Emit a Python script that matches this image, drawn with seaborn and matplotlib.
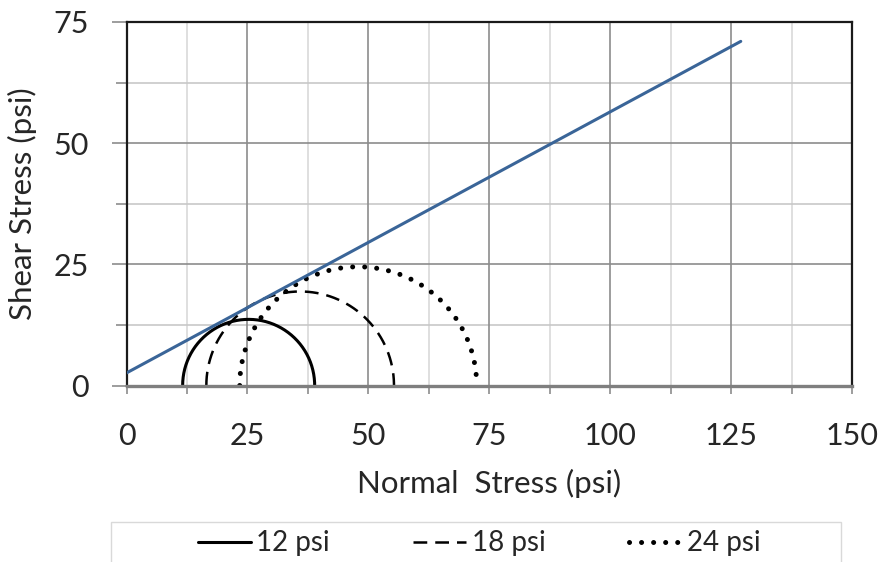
import numpy as np
import pandas as pd
import matplotlib
matplotlib.use("Agg")
import matplotlib.pyplot as plt
from matplotlib.patches import Rectangle
import seaborn as sns

# Mohr circles (principal stresses, psi)
labels = ["12 psi", "18 psi", "24 psi"]
sigma3 = [11.6, 16.5, 23.4]
sigma1 = [38.9, 55.3, 72.4]
# failure envelope endpoints
env_x = [0.0, 127.0]
env_y = [2.6, 71.0]

x_ticks = [0, 25, 50, 75, 100, 125, 150]
y_ticks = [0, 25, 50, 75]

sns.set_style("white")
plt.rcParams["font.family"] = ["Lato", "DejaVu Sans"]

fig = plt.figure(figsize=(8.83, 5.62), dpi=100)
ax = fig.add_axes([0.1433, 0.314, 0.8216, 0.6469])

# grid
for v in np.arange(12.5, 150, 25):
    ax.axvline(v, color="#d9d9d9", lw=1.2, zorder=0)
for v in np.arange(12.5, 75, 25):
    ax.axhline(v, color="#c8c8c8", lw=1.2, zorder=0)
for v in x_ticks[1:-1]:
    ax.axvline(v, color="#8c8c8c", lw=1.2, zorder=0)
for v in y_ticks[1:-1]:
    ax.axhline(v, color="#8c8c8c", lw=1.2, zorder=0)

styles = [
    dict(ls="-", lw=2.2),
    dict(ls=(0, (5.5, 3.2)), lw=1.8),
    dict(ls=(0, (0.01, 2.4)), lw=3.6, dash_capstyle="round"),
]
t = np.linspace(np.pi, 0, 200)
for lab, s3, s1, st in zip(labels, sigma3, sigma1, styles):
    c = (s1 + s3) / 2
    r = (s1 - s3) / 2
    df = pd.DataFrame({"x": c + r * np.cos(t), "y": r * np.sin(t)})
    sns.lineplot(data=df, x="x", y="y", sort=False, ax=ax, color="black",
                 label=lab, lw=st["lw"], zorder=3)
    l = ax.get_lines()[-1]
    l.set_linestyle(st["ls"])
    if "dash_capstyle" in st:
        l.set_dash_capstyle("round")

env = pd.DataFrame({"x": env_x, "y": env_y})
sns.lineplot(data=env, x="x", y="y", ax=ax, color="#3A6598", lw=2.2, zorder=4)

ax.set_xlim(0, 150)
ax.set_ylim(0, 75)
ax.set_xticks(x_ticks)
ax.set_yticks(y_ticks)
ax.set_xticks(np.arange(12.5, 150, 25), minor=True)
ax.set_yticks(np.arange(12.5, 75, 25), minor=True)
ax.tick_params(axis="x", which="both", direction="out", length=6, width=1.2,
               color="#8c8c8c", labelsize=22, pad=20, bottom=True)
ax.tick_params(axis="y", which="major", direction="out", length=11, width=1.2,
               color="#8c8c8c", labelsize=22, pad=16, left=True)
ax.tick_params(axis="y", which="minor", direction="out", length=8, width=1.2,
               color="#8c8c8c", left=True)
ax.set_xlabel("Normal  Stress (psi)", fontsize=22.5, labelpad=14)
ax.set_ylabel("Shear Stress (psi)", fontsize=22.5, labelpad=12)

for s in ["top", "right", "left"]:
    ax.spines[s].set_color("#1a1a1a")
    ax.spines[s].set_linewidth(1.6)
ax.spines["bottom"].set_color("#7f7f7f")
ax.spines["bottom"].set_linewidth(2.4)
ax.spines["bottom"].set_zorder(5)

ax.get_legend().remove()
handles, labs = ax.get_legend_handles_labels()
handles, labs = handles[:3], labs[:3]

fig.patches.append(Rectangle((0.1257, -0.01), 0.8267, 0.081, transform=fig.transFigure,
                             fill=False, edgecolor="#d9d9d9", lw=1.0))
fig.legend(handles, labs, loc="center", bbox_to_anchor=(0.543, 0.033), ncol=3,
           frameon=False, fontsize=20, handlelength=1.9, handletextpad=0.2,
           columnspacing=3.0)

fig.savefig("out.png", dpi=100)
